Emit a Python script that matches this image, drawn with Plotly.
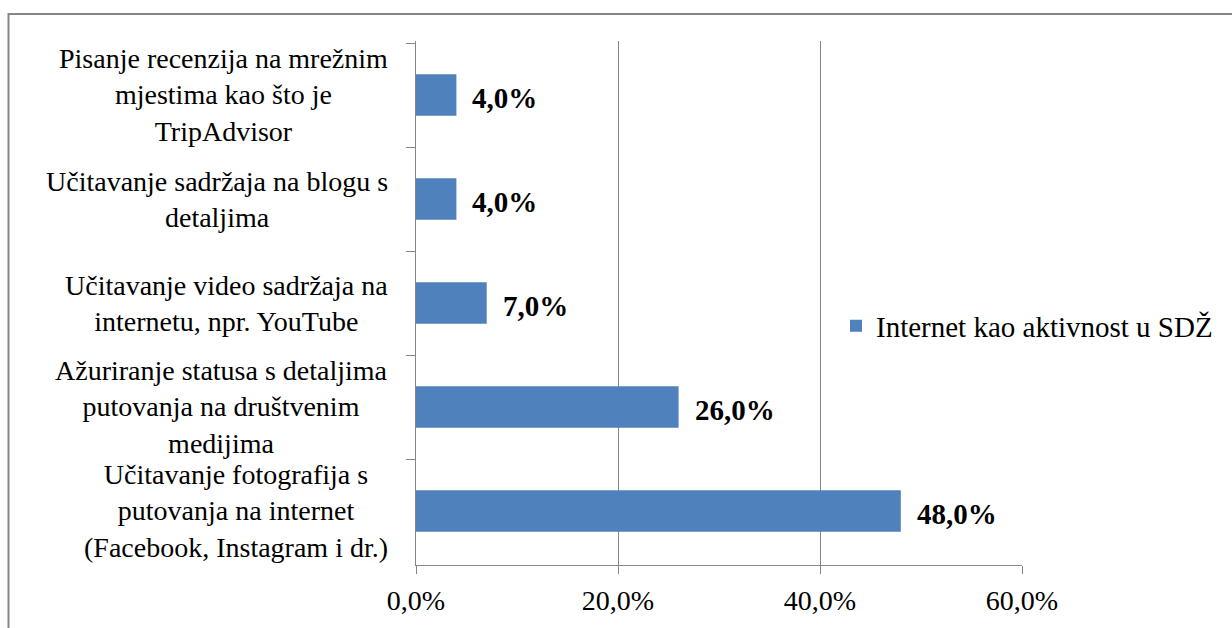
import plotly.graph_objects as go

categories = [
    "Pisanje recenzija na mrežnim<br>mjestima kao što je<br>TripAdvisor",
    "Učitavanje sadržaja na blogu s<br>detaljima",
    "Učitavanje video sadržaja na<br>internetu, npr. YouTube",
    "Ažuriranje statusa s detaljima<br>putovanja na društvenim<br>medijima",
    "Učitavanje fotografija s<br>putovanja na internet<br>(Facebook, Instagram i dr.)",
]
values = [4.0, 4.0, 7.0, 26.0, 48.0]
series_name = "Internet kao aktivnost u SDŽ"
tick_vals = [0, 20, 40, 60]
tick_text = ["0,0%", "20,0%", "40,0%", "60,0%"]

labels = [f"{v:.1f}".replace(".", ",") + "%" for v in values]

W, H = 1232, 628
L, R, T, B = 416, 1022, 41, 565
FONT = "Liberation Serif"
GRAY = "#868686"

fig = go.Figure(go.Bar(
    y=categories, x=values, orientation="h", name=series_name,
    marker=dict(color="#4F81BD", line=dict(width=0)),
    showlegend=True,
))

annotations = []
for c, v, t in zip(categories, values, labels):
    annotations.append(dict(x=v, y=c, xref="x", yref="y", text=t, showarrow=False,
                            xanchor="left", yanchor="middle", xshift=14, yshift=-3,
                            font=dict(family=FONT, size=29, color="black", weight="bold")))
    annotations.append(dict(x=(390 - L) / (R - L), y=c, xref="paper", yref="y", text=c,
                            showarrow=False, xanchor="right", yanchor="middle", align="center",
                            font=dict(family=FONT, size=28, color="black")))

fig.update_layout(
    width=W, height=H,
    margin=dict(l=L, r=W - R, t=T, b=H - B, pad=0),
    paper_bgcolor="white", plot_bgcolor="white",
    font=dict(family=FONT, size=27, color="black"),
    bargap=0.6,
    xaxis=dict(range=[0, 60], tickvals=tick_vals, ticktext=tick_text,
               showgrid=True, gridcolor=GRAY, gridwidth=1.3,
               showline=True, linecolor=GRAY, linewidth=1.3,
               ticks="outside", ticklen=8, tickcolor=GRAY, tickwidth=1.3,
               zeroline=False, tickfont=dict(size=28), ticklabelstandoff=2),
    yaxis=dict(autorange="reversed", showline=True, linecolor=GRAY, linewidth=1.3,
               ticks="outside", ticklen=9, tickcolor=GRAY, tickwidth=1.3,
               tickson="boundaries", showgrid=False, showticklabels=False),
    legend=dict(x=(836 - L) / (R - L), y=1 - (326 - T) / (B - T), yanchor="middle", xanchor="left",
                font=dict(size=29), bgcolor="rgba(0,0,0,0)", itemwidth=30),
    annotations=annotations,
    shapes=[dict(type="rect", xref="paper", yref="paper",
                 x0=(8.5 - L) / (R - L), x1=(1250 - L) / (R - L),
                 y0=(B - 650) / (B - T), y1=(B - 14) / (B - T),
                 line=dict(color=GRAY, width=2), fillcolor="rgba(0,0,0,0)", layer="below")],
)

fig.write_html("out.html", config={"displayModeBar": False},
               post_script="document.body.style.margin='0px';document.body.style.overflow='hidden';")
